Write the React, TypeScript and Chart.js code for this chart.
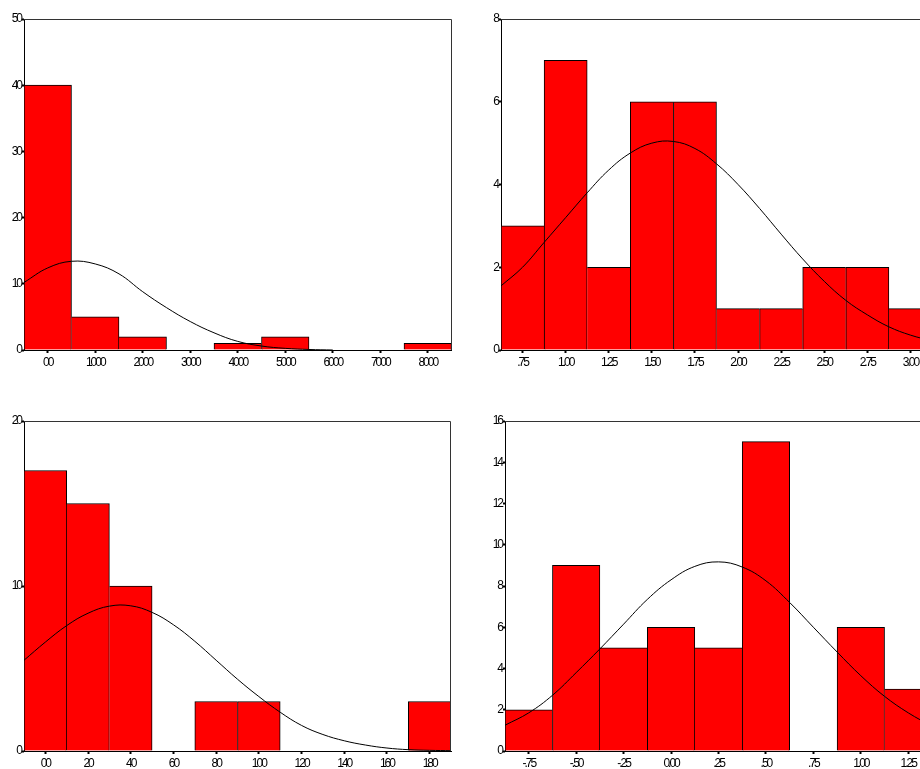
import React, { useEffect, useRef } from "react";
import { Chart, registerables } from "chart.js";

Chart.register(...registerables);

// ---------- Panel 1 (top-left) ----------
const p1Bins = [0, 1000, 2000, 3000, 4000, 5000, 6000, 7000, 8000];
const p1Counts = [40, 5, 2, 0, 1, 2, 0, 0, 1];
const p1XLabels = ["00", "1000", "2000", "3000", "4000", "5000", "6000", "7000", "8000"];
const p1YTicks = [0, 10, 20, 30, 40, 50];
const p1CurveX = [-500, 0, 500, 1000, 1500, 2000, 2500, 3000, 3500, 4000, 4500, 5000, 5500, 6000];
const p1CurveY = [10.2, 12.4, 13.4, 13.0, 11.5, 8.8, 6.4, 4.3, 2.6, 1.3, 0.6, 0.25, 0.08, 0.0];

// ---------- Panel 2 (top-right) ----------
const p2Bins = [0.75, 1.0, 1.25, 1.5, 1.75, 2.0, 2.25, 2.5, 2.75, 3.0];
const p2Counts = [3, 7, 2, 6, 6, 1, 1, 2, 2, 1];
const p2XLabels = [".75", "1.00", "1.25", "1.50", "1.75", "2.00", "2.25", "2.50", "2.75", "3.00"];
const p2YTicks = [0, 2, 4, 6, 8];
const p2CurveX = [0.625, 0.75, 0.875, 1.0, 1.125, 1.25, 1.375, 1.5, 1.625, 1.75, 1.875, 2.0, 2.125, 2.25, 2.375, 2.5, 2.625, 2.75, 2.875, 3.0, 3.125];
const p2CurveY = [1.55, 2.0, 2.6, 3.2, 3.8, 4.35, 4.76, 5.0, 5.04, 4.87, 4.5, 4.0, 3.42, 2.8, 2.2, 1.66, 1.2, 0.85, 0.56, 0.36, 0.22];

// ---------- Panel 3 (bottom-left) ----------
const p3Bins = [0, 20, 40, 60, 80, 100, 120, 140, 160, 180];
const p3Counts = [17, 15, 10, 0, 3, 3, 0, 0, 0, 3];
const p3XLabels = ["00", "20", "40", "60", "80", "100", "120", "140", "160", "180"];
const p3YTicks = [0, 10, 20];
const p3CurveX = [-10, 0, 10, 20, 30, 40, 50, 60, 70, 80, 90, 100, 110, 120, 130, 140, 150, 160, 170, 180, 190];
const p3CurveY = [5.5, 6.6, 7.6, 8.35, 8.78, 8.8, 8.4, 7.65, 6.65, 5.5, 4.35, 3.3, 2.35, 1.55, 1.0, 0.62, 0.36, 0.18, 0.08, 0.04, 0.02];

// ---------- Panel 4 (bottom-right) ----------
const p4Bins = [-0.75, -0.5, -0.25, 0.0, 0.25, 0.5, 0.75, 1.0, 1.25];
const p4Counts = [2, 9, 5, 6, 5, 15, 0, 6, 3];
const p4XLabels = ["-.75", "-.50", "-.25", "0.00", ".25", ".50", ".75", "1.00", "1.25"];
const p4YTicks = [0, 2, 4, 6, 8, 10, 12, 14, 16];
const p4CurveX = [-0.875, -0.75, -0.625, -0.5, -0.375, -0.25, -0.125, 0.0, 0.125, 0.25, 0.375, 0.5, 0.625, 0.75, 0.875, 1.0, 1.125, 1.25, 1.375];
const p4CurveY = [1.25, 1.85, 2.7, 3.8, 4.95, 6.15, 7.35, 8.3, 8.95, 9.17, 8.92, 8.25, 7.2, 6.0, 4.8, 3.65, 2.65, 1.85, 1.2];

type PanelProps = {
  bins: number[];
  counts: number[];
  xLabels: string[];
  yTicks: number[];
  curveX: number[];
  curveY: number[];
  xMin: number;
  xMax: number;
  pos: { left: number; top: number; width: number; height: number };
  pad: { left: number; top: number; right: number; bottom: number };
  yWidth: number;
};

const FONT = { family: "'Liberation Sans', Arial, sans-serif", size: 12 };

const spacingPlugin = {
  id: "tightText",
  beforeLayout(chart: any) {
    chart.ctx.letterSpacing = "-2px";
  },
  beforeDraw(chart: any) {
    chart.ctx.letterSpacing = "-2px";
  },
};

const framePlugin = {
  id: "frame",
  afterDraw(chart: any) {
    const { ctx, chartArea } = chart;
    const t = Math.round(chartArea.top) + 0.5;
    const r = Math.round(chartArea.right) - 0.5;
    const l = Math.round(chartArea.left);
    const b = Math.round(chartArea.bottom);
    ctx.save();
    ctx.strokeStyle = "#333";
    ctx.lineWidth = 1;
    ctx.beginPath();
    ctx.moveTo(l, t);
    ctx.lineTo(r, t);
    ctx.lineTo(r, b);
    ctx.stroke();
    ctx.restore();
  },
};

function Histogram(p: PanelProps) {
  const ref = useRef<HTMLCanvasElement | null>(null);
  useEffect(() => {
    if (!ref.current) return;
    const counts = p.counts;
    const maxY = p.yTicks[p.yTicks.length - 1];
    const chart = new Chart(ref.current, {
      type: "bar",
      data: {
        datasets: [
          {
            type: "line",
            data: p.curveX.map((x, i) => ({ x, y: p.curveY[i] })),
            borderColor: "#000",
            borderWidth: 1,
            pointRadius: 0,
            fill: false,
            tension: 0.4,
            order: 0,
          } as any,
          {
            type: "bar",
            data: p.bins.map((x, i) => ({ x, y: counts[i] })),
            backgroundColor: (c: any) => (counts[c.dataIndex] ? "#ff0000" : "rgba(0,0,0,0)"),
            borderColor: "#000",
            borderWidth: (c: any) => {
              const i = c.dataIndex;
              const v = counts[i];
              if (!v) return 0;
              const prev = i > 0 ? counts[i - 1] : 0;
              const next = i < counts.length - 1 ? counts[i + 1] : 0;
              return { top: 1, left: prev <= v ? 1 : 0, right: next < v ? 1 : 0, bottom: 0 };
            },
            barPercentage: 1,
            categoryPercentage: 1,
            grouped: false,
            order: 1,
          } as any,
        ],
      },
      options: {
        animation: false,
        responsive: false,
        maintainAspectRatio: false,
        events: [],
        layout: { padding: p.pad, autoPadding: false } as any,
        plugins: { legend: { display: false }, tooltip: { enabled: false } },
        scales: {
          x: {
            type: "linear",
            offset: false,
            min: p.xMin,
            max: p.xMax,
            afterBuildTicks: (s: any) => {
              s.ticks = p.bins.map((v) => ({ value: v }));
            },
            afterFit: (s: any) => {
              s.height = 18;
            },
            ticks: {
              autoSkip: false,
              maxRotation: 0,
              minRotation: 0,
              padding: 2,
              color: "#000",
              font: FONT,
              callback: (_v: any, i: number) => p.xLabels[i],
            },
            grid: { offset: false, drawOnChartArea: false, tickLength: 3, tickWidth: 2, color: "#000" } as any,
            border: { display: true, color: "#000", width: 1 },
          },
          y: {
            type: "linear",
            min: 0,
            max: maxY,
            afterBuildTicks: (s: any) => {
              s.ticks = p.yTicks.map((v) => ({ value: v }));
            },
            afterFit: (s: any) => {
              s.width = p.yWidth;
            },
            ticks: {
              padding: 1,
              color: "#000",
              font: FONT,
              callback: (v: any) => String(v),
            },
            grid: { drawOnChartArea: false, tickLength: 2, tickWidth: 2, color: "#000" } as any,
            border: { display: true, color: "#000", width: 1 },
          },
        },
      },
      plugins: [spacingPlugin, framePlugin],
    });
    return () => chart.destroy();
  }, []);
  return (
    <canvas
      ref={ref}
      width={p.pos.width}
      height={p.pos.height}
      style={{
        position: "absolute",
        left: p.pos.left,
        top: p.pos.top,
        width: p.pos.width,
        height: p.pos.height,
      }}
    />
  );
}

export default function App() {
  return (
    <div
      style={{
        position: "absolute",
        left: 0,
        top: 0,
        width: 920,
        height: 769,
        overflow: "hidden",
        background: "#fff",
      }}
    >
      <Histogram
        bins={p1Bins}
        counts={p1Counts}
        xLabels={p1XLabels}
        yTicks={p1YTicks}
        curveX={p1CurveX}
        curveY={p1CurveY}
        xMin={-500}
        xMax={8500}
        pos={{ left: 0, top: 0, width: 460, height: 380 }}
        pad={{ left: 0, top: 19, right: 8.5, bottom: 12 }}
        yWidth={24}
      />
      <Histogram
        bins={p2Bins}
        counts={p2Counts}
        xLabels={p2XLabels}
        yTicks={p2YTicks}
        curveX={p2CurveX}
        curveY={p2CurveY}
        xMin={0.625}
        xMax={3.125}
        pos={{ left: 460, top: 0, width: 480, height: 380 }}
        pad={{ left: 0, top: 19, right: 8, bottom: 12 }}
        yWidth={41}
      />
      <Histogram
        bins={p3Bins}
        counts={p3Counts}
        xLabels={p3XLabels}
        yTicks={p3YTicks}
        curveX={p3CurveX}
        curveY={p3CurveY}
        xMin={-10}
        xMax={190}
        pos={{ left: 0, top: 380, width: 460, height: 389 }}
        pad={{ left: 0, top: 41, right: 9, bottom: 0 }}
        yWidth={24}
      />
      <Histogram
        bins={p4Bins}
        counts={p4Counts}
        xLabels={p4XLabels}
        yTicks={p4YTicks}
        curveX={p4CurveX}
        curveY={p4CurveY}
        xMin={-0.875}
        xMax={1.375}
        pos={{ left: 460, top: 380, width: 480, height: 389 }}
        pad={{ left: 0, top: 41, right: 8, bottom: 0 }}
        yWidth={45}
      />
    </div>
  );
}
